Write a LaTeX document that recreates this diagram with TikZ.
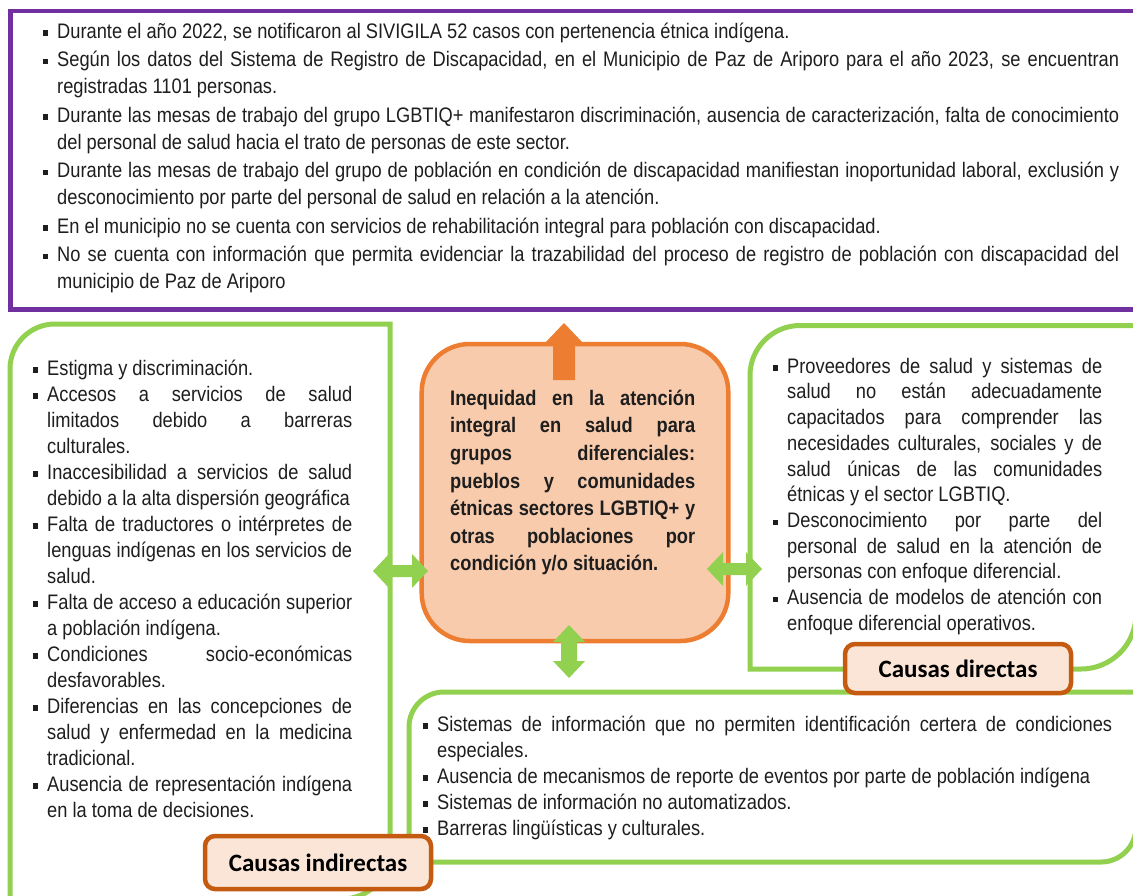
\documentclass[tikz,border=0pt]{standalone}
\usepackage{fontspec}
\setmainfont{Liberation Sans}[FakeStretch=0.87]
\newfontfamily\lblfont{Carlito}
\definecolor{purp}{HTML}{7030A0}
\definecolor{grn}{HTML}{92D050}
\definecolor{orng}{HTML}{ED7D31}
\definecolor{orfill}{HTML}{F8CBAD}
\definecolor{lblfill}{HTML}{FBE5D6}
\definecolor{lbldraw}{HTML}{C55A11}
\definecolor{txtc}{HTML}{1E1E1E}
\tikzset{
  purplebox/.style={draw=purp, line width=4.5pt},
  greenline/.style={draw=grn, line width=5pt},
  probbox/.style={draw=orng, fill=orfill, line width=4.5pt, rounded corners=48pt, inner sep=0pt},
  lblbox/.style={draw=lbldraw, fill=lblfill, line width=4.5pt, rounded corners=10pt, inner sep=0pt,
     font=\lblfont\bfseries\fontsize{25pt}{29pt}\selectfont, text=black},
  txt/.style={inner sep=0pt, anchor=north west, align=justify, text=txtc},
  grnarrow/.style={fill=grn},
  orarrow/.style={fill=orng}
}
\newcommand\fs{\rule{0pt}{16pt}}
\newcommand\itm[1]{\noindent\hangindent=14pt\hangafter=1\makebox[14pt][l]{\raisebox{2.6pt}{\rule{5.2pt}{5.2pt}}}#1\par}
\newcommand\setup[2]{\fontsize{#1}{#2}\selectfont\tolerance=10000\hbadness=10000\hyphenpenalty=10000\exhyphenpenalty=10000\parindent=0pt}
\begin{document}
\begin{tikzpicture}[x=1pt,y=-1pt]
\useasboundingbox (0,0) rectangle (1133,895);
\clip (0,0) rectangle (1133,895);
\fill[white] (0,0) rectangle (1133,895);
% top purple box
\draw[purplebox] (10.5,11) rectangle (1145,309.5);
% left green box
\draw[greenline] (10,915) -- (10,369) .. controls (10,344.15) and (30.15,324) .. (55,324) -- (390,324) -- (390,851) .. controls (390,877.5) and (368.5,899) .. (342,899) -- (-10,899);
% right green box
\draw[greenline] (1145,325.5) -- (800,325.5) .. controls (772.4,325.5) and (750,347.9) .. (750,375.5) -- (750,669) -- (1081,669) .. controls (1111.4,669) and (1136,644.4) .. (1136,614) -- (1136,320);
% bottom green box
\draw[greenline] (1145,692) -- (444,692) .. controls (424.7,692) and (409,707.7) .. (409,727) -- (409,862) -- (1101,862) .. controls (1120.3,862) and (1136,846.3) .. (1136,827) -- (1136,700);
% central problem box
\node[probbox, minimum width=306.6pt, minimum height=297pt] (prob) at (575,492.5) {};

% texts
\node[txt, text width=1076pt] (toptxt) at (43,22) {\setup{21pt}{27pt}\setlength\parskip{1.5pt}%
\itm{\fs Durante el año 2022, se notificaron al SIVIGILA 52 casos con pertenencia étnica indígena.}
\itm{Según los datos del Sistema de Registro de Discapacidad, en el Municipio de Paz de Ariporo para el año 2023, se encuentran\linebreak registradas 1101 personas.}
\itm{Durante las mesas de trabajo del grupo LGBTIQ+ manifestaron discriminación, ausencia de caracterización, falta de conocimiento\linebreak del personal de salud hacia el trato de personas de este sector.}
\itm{Durante las mesas de trabajo del grupo de población en condición de discapacidad manifiestan inoportunidad laboral, exclusión y\linebreak desconocimiento por parte del personal de salud en relación a la atención.}
\itm{En el municipio no se cuenta con servicios de rehabilitación integral para población con discapacidad.}
\itm{No se cuenta con información que permita evidenciar la trazabilidad del proceso de registro de población con discapacidad del\linebreak municipio de Paz de Ariporo}};

\node[txt, text width=319pt] (lefttxt) at (33,359) {\setup{21pt}{26pt}%
\itm{\fs Estigma y discriminación.}
\itm{Accesos a servicios de salud\linebreak limitados debido a barreras\linebreak culturales.}
\itm{Inaccesibilidad a servicios de salud\linebreak debido a la alta dispersión geográfica}
\itm{Falta de traductores o intérpretes de\linebreak lenguas indígenas en los servicios de\linebreak salud.}
\itm{Falta de acceso a educación superior\linebreak a población indígena.}
\itm{Condiciones socio-económicas\linebreak desfavorables.}
\itm{Diferencias en las concepciones de\linebreak salud y enfermedad en la medicina\linebreak tradicional.}
\itm{Ausencia de representación indígena\linebreak en la toma de decisiones.}};

\node[txt, text width=245pt, font=\bfseries] (probtxt) at (450,389) {\setup{21pt}{27.6pt}%
\noindent\fs Inequidad en la atención\linebreak integral en salud para\linebreak grupos diferenciales:\linebreak pueblos y comunidades\linebreak étnicas sectores LGBTIQ+ y\linebreak otras poblaciones por\linebreak condición y/o situación.\par};

\node[txt, text width=329pt] (righttxt) at (773,357) {\setup{21pt}{25.7pt}%
\itm{\fs Proveedores de salud y sistemas de\linebreak salud no están adecuadamente\linebreak capacitados para comprender las\linebreak necesidades culturales, sociales y de\linebreak salud únicas de las comunidades\linebreak étnicas y el sector LGBTIQ.}
\itm{Desconocimiento por parte del\linebreak personal de salud en la atención de\linebreak personas con enfoque diferencial.}
\itm{Ausencia de modelos de atención con\linebreak enfoque diferencial operativos.}};

\node[txt, text width=689pt] (bottxt) at (423,715) {\setup{21pt}{26pt}%
\itm{\fs Sistemas de información que no permiten identificación certera de condiciones\linebreak especiales.}
\itm{Ausencia de mecanismos de reporte de eventos por parte de población indígena}
\itm{Sistemas de información no automatizados.}
\itm{Barreras lingüísticas y culturales.}};

% arrows
\fill[orarrow] (564,323) -- (583,343) -- (575,343) -- (575,380) -- (553,380) -- (553,343) -- (545,343) -- cycle;
\fill[grnarrow] (373,571) -- (389,554) -- (389,565) -- (412,565) -- (412,554) -- (428,571) -- (412,588) -- (412,577) -- (389,577) -- (389,588) -- cycle;
\fill[grnarrow] (707,569) -- (723,552) -- (723,563) -- (746,563) -- (746,552) -- (762,569) -- (746,586) -- (746,575) -- (723,575) -- (723,586) -- cycle;
\fill[grnarrow] (569,625) -- (585,642) -- (577,642) -- (577,661) -- (585,661) -- (569,678) -- (553,661) -- (561,661) -- (561,642) -- (553,642) -- cycle;

% labels
\node[lblbox, minimum width=226pt, minimum height=49pt] (directas) at (958,668.5) {Causas directas};
\node[lblbox, minimum width=226pt, minimum height=53pt] (indirectas) at (318,862.5) {Causas indirectas};
\end{tikzpicture}
\end{document}
